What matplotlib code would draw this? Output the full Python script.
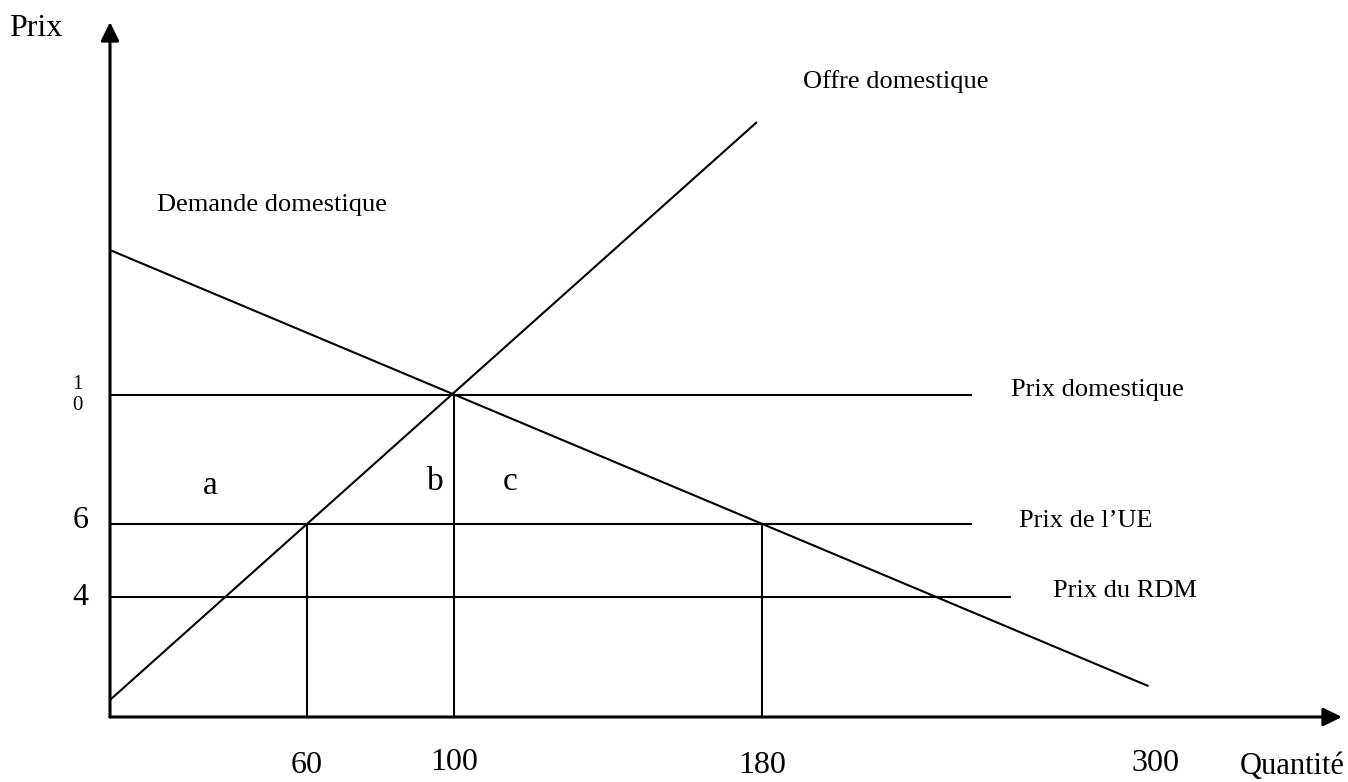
import numpy as np
import matplotlib
matplotlib.use("Agg")
import matplotlib.pyplot as plt
import matplotlib.transforms as mtransforms

plt.rcParams['font.family'] = ['Liberation Serif', 'DejaVu Serif']

# ---------------- data ----------------
price_levels = [10, 6, 4]
price_line_names = ['Prix domestique', 'Prix de l\u2019UE', 'Prix du RDM']
price_line_end_q = [244, 244, 256]
price_tick_labels = ['1\n0', '6', '4']

quantity_marks = [60, 100, 180]
quantity_mark_price = [6, 10, 6]
quantity_tick_values = [60, 100, 180, 300]
quantity_tick_labels = ['60', '100', '180', '300']

supply_q = [0, 178.7]
supply_p = [0.57, 18.4]
demand_q = [0, 298]
demand_p = [14.46, 1.03]

area_labels = ['a', 'b', 'c']
area_q = [30.5, 94.8, 114.5]
area_p = [7.2, 7.3, 7.3]

# piecewise-linear schematic scales (hand-drawn diagram)
xq = [-100, 0, 60, 100, 180, 300, 600]
xs = [-328, 0, 197, 344, 652, 1045, 2027]
yp = [-10, 0, 4, 6, 10, 40]
ys = [-300, 0, 120, 193, 322, 1297]


def fx(v):
    return np.interp(v, xq, xs)


def ix(v):
    return np.interp(v, xs, xq)


def fy(v):
    return np.interp(v, yp, ys)


def iy(v):
    return np.interp(v, ys, yp)


W, H = 1348, 782
fig = plt.figure(figsize=(W / 100, H / 100), dpi=100)
ax = fig.add_axes([110 / W, 65 / H, 1232 / W, 695 / H])
ax.set_xscale('function', functions=(fx, ix))
ax.set_yscale('function', functions=(fy, iy))
ax.set_xlim(0, ix(1232))
ax.set_ylim(0, iy(695))
for s in ax.spines.values():
    s.set_visible(False)
ax.set_xticks([])
ax.set_yticks([])
ax.patch.set_visible(False)

lw = 1.5
arrow_style = '-|>,head_length=0.45,head_width=0.22'
# axes with arrows
ax.annotate('', xy=(1, 0), xytext=(0, 0), xycoords='axes fraction',
            arrowprops=dict(arrowstyle=arrow_style, lw=2.2, color='black',
                            shrinkA=0, shrinkB=0, mutation_scale=25), annotation_clip=False)
ax.annotate('', xy=(0, 1), xytext=(0, 0), xycoords='axes fraction',
            arrowprops=dict(arrowstyle=arrow_style, lw=2.2, color='black',
                            shrinkA=0, shrinkB=0, mutation_scale=25), annotation_clip=False)

# supply & demand
ax.plot(supply_q, supply_p, color='black', lw=lw, solid_capstyle='butt')
ax.plot(demand_q, demand_p, color='black', lw=lw, solid_capstyle='butt')

# horizontal price lines
for p, qe in zip(price_levels, price_line_end_q):
    ax.plot([0, qe], [p, p], color='black', lw=lw, solid_capstyle='butt')

# vertical quantity lines
for q, p in zip(quantity_marks, quantity_mark_price):
    ax.plot([q, q], [0, p], color='black', lw=lw, solid_capstyle='butt')

# area labels
for t, q, p in zip(area_labels, area_q, area_p):
    ax.text(q, p, t, fontsize=24, ha='center', va='center')


def fig_y(py):
    return 1 - py / H


def fig_x(px):
    return px / W


xtrans = mtransforms.blended_transform_factory(ax.transData, fig.transFigure)
ytrans = mtransforms.blended_transform_factory(fig.transFigure, ax.transData)

q_label_base = [773, 770, 773, 771]
for v, lab, b in zip(quantity_tick_values, quantity_tick_labels, q_label_base):
    ax.text(v, fig_y(b), lab, transform=xtrans, fontsize=23, ha='center', va='baseline',
            clip_on=False)

ax.text(fig_x(77), 10, price_tick_labels[0], transform=ytrans, fontsize=15, ha='center',
        va='center', linespacing=1.15, clip_on=False)
ax.text(fig_x(81), fig_y(528), price_tick_labels[1], transform=fig.transFigure, fontsize=23,
        ha='center', va='baseline')
ax.text(fig_x(80), fig_y(605), price_tick_labels[2], transform=fig.transFigure, fontsize=23,
        ha='center', va='baseline')

# line names
line_name_pos = [(1011, 396), (1019, 527), (1053, 597)]
for name, (px, py) in zip(price_line_names, line_name_pos):
    fig.text(fig_x(px), fig_y(py), name, fontsize=19, ha='left', va='baseline')

fig.text(fig_x(803), fig_y(88), 'Offre domestique', fontsize=19, ha='left', va='baseline')
fig.text(fig_x(157), fig_y(211), 'Demande domestique', fontsize=19, ha='left', va='baseline')

fig.text(fig_x(9), fig_y(36), 'Prix', fontsize=23, ha='left', va='baseline')
fig.text(fig_x(1345), fig_y(774), 'Quantité', fontsize=22, ha='right', va='baseline')

fig.savefig('out.png', dpi=100, facecolor='white')
